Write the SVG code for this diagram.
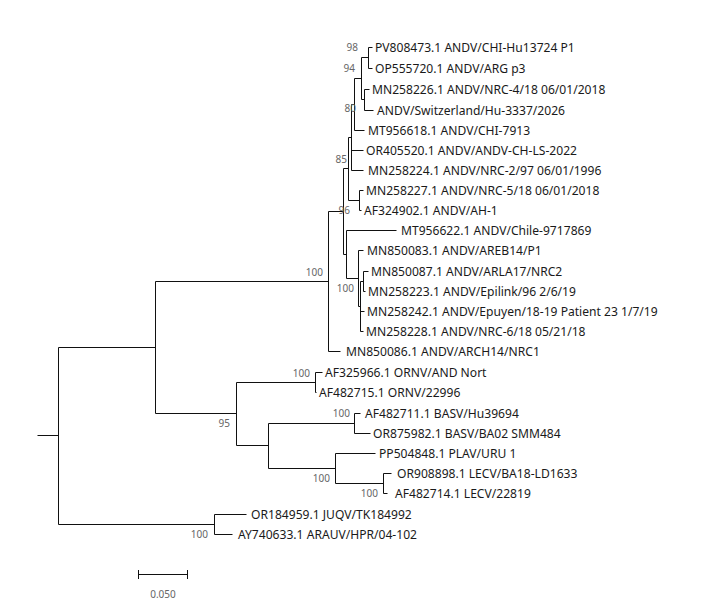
<svg xmlns="http://www.w3.org/2000/svg" width="728" height="607" viewBox="0 0 728 607">
<style>
.leaf{font-family:"Noto Sans","Open Sans","DejaVu Sans",sans-serif;font-size:12.1px;fill:#1a1a1a}
.bs{font-family:"Noto Sans","Open Sans","DejaVu Sans",sans-serif;font-size:10px;fill:#666;text-anchor:end}
.edge{fill:none;stroke:#111;stroke-width:1}
</style>
<rect width="728" height="607" fill="#fff"/>
<g id="connectors" class="edge" transform="translate(0.5,0.5)">
<path d="M37,435H58M58,347V524"/>
<path d="M58,347H155M155,281V413"/>
<path d="M155,281H328M328,211V351"/>
<path d="M328,351H340"/>
<path d="M328,211H343M343,168V254"/>
<path d="M343,168H348M348,137V200"/>
<path d="M348,137H351M351,104V170"/>
<path d="M351,104H354M354,78V130"/>
<path d="M354,78H361M361,57V99"/>
<path d="M361,57H368M368,47V68"/>
<path d="M368,47H372M368,68H372"/>
<path d="M361,99H364M364,89V110"/>
<path d="M364,89H369M364,110H373"/>
<path d="M354,130H364"/>
<path d="M351,150H363M351,170H363"/>
<path d="M348,200H359M359,190V210"/>
<path d="M359,190H363M359,210H361"/>
<path d="M343,254H346M346,230V278"/>
<path d="M346,230H396"/>
<path d="M346,278H358M358,250V306"/>
<path d="M358,250H363"/>
<path d="M358,306H360M360,281V331"/>
<path d="M360,281H363M363,271V291"/>
<path d="M363,271H368M363,291H365"/>
<path d="M360,311H364M360,331H363"/>
<path d="M155,413H236M236,382V445"/>
<path d="M236,382H315M315,372V392"/>
<path d="M315,372H322M315,392H316"/>
<path d="M236,445H268M268,423V468"/>
<path d="M268,423H354M354,413V433"/>
<path d="M354,413H360M354,433H370"/>
<path d="M268,468H335M335,453V483"/>
<path d="M335,453H375"/>
<path d="M335,483H383M383,473V493"/>
<path d="M383,473H391M383,493H387"/>
<path d="M58,524H214M214,514V534"/>
<path d="M214,514H246M214,534H232"/>
</g>
<g id="leaf-PV808473"><text class="leaf" x="375" y="51.5">PV808473.1 ANDV/CHI-Hu13724 P1</text></g>
<g id="leaf-OP555720"><text class="leaf" x="375" y="72.5">OP555720.1 ANDV/ARG p3</text></g>
<g id="leaf-MN258226"><text class="leaf" x="372" y="93.5">MN258226.1 ANDV/NRC-4/18 06/01/2018</text></g>
<g id="leaf-Switzerland"><text class="leaf" x="377" y="114.5">ANDV/Switzerland/Hu-3337/2026</text></g>
<g id="leaf-MT956618"><text class="leaf" x="368" y="134.5">MT956618.1 ANDV/CHI-7913</text></g>
<g id="leaf-OR405520"><text class="leaf" x="366" y="154.5">OR405520.1 ANDV/ANDV-CH-LS-2022</text></g>
<g id="leaf-MN258224"><text class="leaf" x="368" y="174.5">MN258224.1 ANDV/NRC-2/97 06/01/1996</text></g>
<g id="leaf-MN258227"><text class="leaf" x="366" y="194.5">MN258227.1 ANDV/NRC-5/18 06/01/2018</text></g>
<g id="leaf-AF324902"><text class="leaf" x="364" y="214.5">AF324902.1 ANDV/AH-1</text></g>
<g id="leaf-MT956622"><text class="leaf" x="401" y="234.5">MT956622.1 ANDV/Chile-9717869</text></g>
<g id="leaf-MN850083"><text class="leaf" x="367" y="254.5">MN850083.1 ANDV/AREB14/P1</text></g>
<g id="leaf-MN850087"><text class="leaf" x="371" y="275.5">MN850087.1 ANDV/ARLA17/NRC2</text></g>
<g id="leaf-MN258223"><text class="leaf" x="368" y="295.5">MN258223.1 ANDV/Epilink/96 2/6/19</text></g>
<g id="leaf-MN258242"><text class="leaf" x="367" y="315.5">MN258242.1 ANDV/Epuyen/18-19 Patient 23 1/7/19</text></g>
<g id="leaf-MN258228"><text class="leaf" x="366" y="335.5">MN258228.1 ANDV/NRC-6/18 05/21/18</text></g>
<g id="leaf-MN850086"><text class="leaf" x="346" y="355.5">MN850086.1 ANDV/ARCH14/NRC1</text></g>
<g id="leaf-AF325966"><text class="leaf" x="325" y="376.5">AF325966.1 ORNV/AND Nort</text></g>
<g id="leaf-AF482715"><text class="leaf" x="319" y="396.5">AF482715.1 ORNV/22996</text></g>
<g id="leaf-AF482711"><text class="leaf" x="365" y="417.5">AF482711.1 BASV/Hu39694</text></g>
<g id="leaf-OR875982"><text class="leaf" x="373" y="437.5">OR875982.1 BASV/BA02 SMM484</text></g>
<g id="leaf-PP504848"><text class="leaf" x="379" y="457.5">PP504848.1 PLAV/URU 1</text></g>
<g id="leaf-OR908898"><text class="leaf" x="397" y="477.5">OR908898.1 LECV/BA18-LD1633</text></g>
<g id="leaf-AF482714"><text class="leaf" x="395" y="497.5">AF482714.1 LECV/22819</text></g>
<g id="leaf-OR184959"><text class="leaf" x="251" y="518.5">OR184959.1 JUQV/TK184992</text></g>
<g id="leaf-AY740633"><text class="leaf" x="238" y="538.5">AY740633.1 ARAUV/HPR/04-102</text></g>
<g id="node-98"><text class="bs" x="358" y="51">98</text></g>
<g id="node-94"><text class="bs" x="355" y="72">94</text></g>
<g id="node-80"><text class="bs" x="356" y="112">80</text></g>
<g id="node-85"><text class="bs" x="347" y="163">85</text></g>
<g id="node-96"><text class="bs" x="350" y="214">96</text></g>
<g id="node-100-andv"><text class="bs" x="323" y="276">100</text></g>
<g id="node-100-sub"><text class="bs" x="354" y="292">100</text></g>
<g id="node-100-ornv"><text class="bs" x="310" y="377">100</text></g>
<g id="node-100-basv"><text class="bs" x="350" y="417">100</text></g>
<g id="node-95"><text class="bs" x="230" y="427">95</text></g>
<g id="node-100-plav"><text class="bs" x="330" y="482">100</text></g>
<g id="node-100-lecv"><text class="bs" x="378" y="497">100</text></g>
<g id="node-100-juqv"><text class="bs" x="208" y="538">100</text></g>
<g id="scalebar">
<path d="M138,574.5H188M138.5,570V579M187.5,570V579" fill="none" stroke="#111" stroke-width="1"/>
<text x="163" y="598" font-family="Noto Sans,Open Sans,sans-serif" font-size="10" fill="#666" text-anchor="middle">0.050</text>
</g>
</svg>
